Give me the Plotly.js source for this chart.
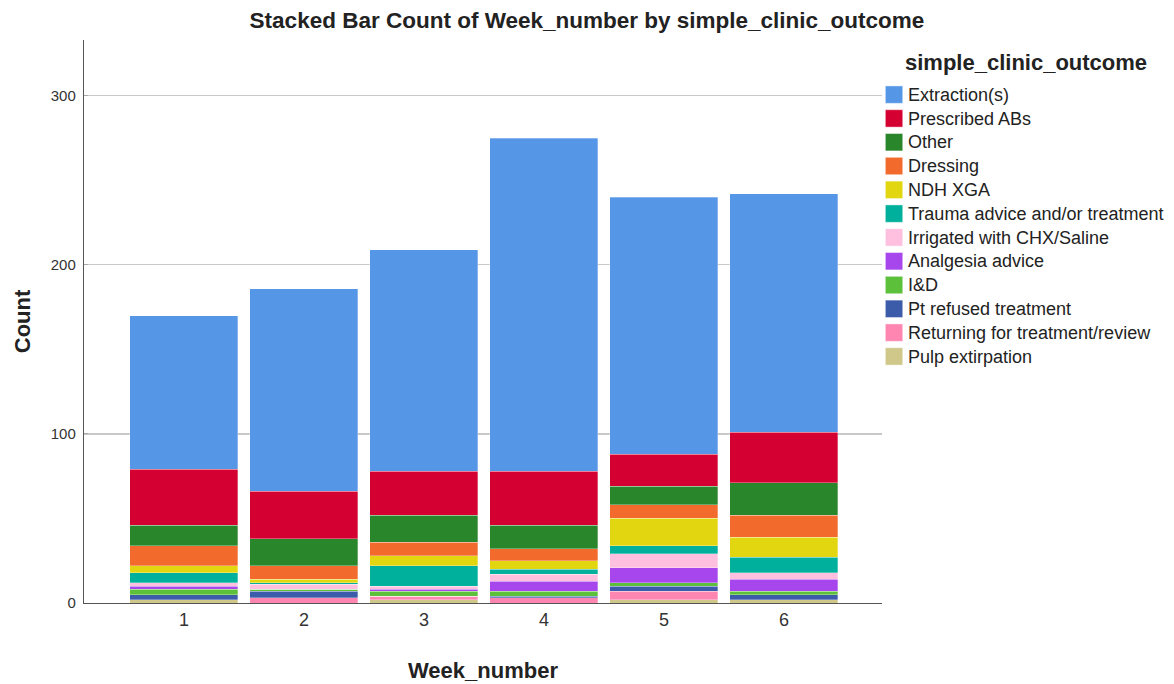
<!DOCTYPE html>
<html>
<head>
<meta charset="utf-8">
<script src="https://cdn.plot.ly/plotly-3.0.1.min.js"></script>
<style>html,body{margin:0;padding:0;background:#fff;}#chart{width:1174px;height:684px;}</style>
</head>
<body>
<div id="chart"></div>
<script>
const weeks = [1, 2, 3, 4, 5, 6];
const weekLabels = ["1", "2", "3", "4", "5", "6"];

// bottom to top stacking order
const pulpExtirpation   = [2, 0, 2, 0, 2, 2];
const returningReview   = [0, 3, 2, 3, 5, 0];
const ptRefused         = [3, 4, 0, 1, 3, 3];
const iAndD             = [3, 1, 3, 3, 2, 2];
const analgesiaAdvice   = [2, 0, 1, 6, 9, 7];
const irrigated         = [2, 3, 2, 4, 8, 4];
const traumaAdvice      = [6, 1, 12, 3, 5, 9];
const ndhXga            = [4, 2, 6, 5, 16, 12];
const dressing          = [12, 8, 8, 7, 8, 13];
const other             = [12, 16, 16, 14, 11, 19];
const prescribedABs     = [33, 28, 26, 32, 19, 30];
const extractions       = [91, 120, 131, 197, 152, 141];

const seriesNames = ["Pulp extirpation", "Returning for treatment/review", "Pt refused treatment", "I&D",
  "Analgesia advice", "Irrigated with CHX/Saline", "Trauma advice and/or treatment", "NDH XGA",
  "Dressing", "Other", "Prescribed ABs", "Extraction(s)"];
const seriesValues = [pulpExtirpation, returningReview, ptRefused, iAndD, analgesiaAdvice, irrigated,
  traumaAdvice, ndhXga, dressing, other, prescribedABs, extractions];
const seriesColors = ["#CFC88A", "#FF86B0", "#3C5BA8", "#5CC03A", "#A846EE", "#FFC0E0",
  "#00B09C", "#E2D610", "#F26A2C", "#2A862A", "#D50032", "#5596E6"];

const traces = seriesNames.map((n, i) => ({
  type: "bar",
  name: n,
  x: weeks,
  y: seriesValues[i],
  marker: {color: seriesColors[i], line: {color: "rgba(255,255,255,0.5)", width: 0.6}},
  hoverinfo: "x+y+name"
}));

const layout = {
  width: 1174, height: 684,
  barmode: "stack",
  bargap: 0.1,
  paper_bgcolor: "#fff", plot_bgcolor: "#fff",
  font: {family: "Liberation Sans, Arial, sans-serif", color: "#000"},
  margin: {l: 84, r: 292, t: 40, b: 81},
  title: {text: "<b>Stacked Bar Count of Week_number by simple_clinic_outcome</b>",
    font: {size: 22.5, color: "#222"}, x: 0.5, xref: "container", y: 0.97, yref: "container", yanchor: "middle"},
  xaxis: {
    range: [0.167, 6.817], tickvals: weeks, ticktext: weekLabels,
    tickfont: {size: 18, color: "#333"}, ticks: "", showgrid: false, zeroline: false,
    showline: true, linecolor: "#555", linewidth: 1.2,
    title: {text: "<b>Week_number</b>", font: {size: 22, color: "#222"}, standoff: 33}
  },
  yaxis: {
    range: [0, 333], tickvals: [0, 100, 200, 300],
    tickfont: {size: 15, color: "#333"}, ticks: "inside", ticklen: 4, tickcolor: "#aaa",
    ticklabelstandoff: 4,
    showgrid: true, gridcolor: "#c8c8c8", gridwidth: 1.2,
    zeroline: false, showline: true, linecolor: "#555", linewidth: 1.2,
    title: {text: "<b>Count</b>", font: {size: 22, color: "#222"}, standoff: 14}
  },
  legend: {
    x: 0.9825, xanchor: "left", y: 0.933, yanchor: "top", xref: "paper", yref: "paper",
    traceorder: "reversed",
    font: {size: 16, color: "#222"},
    itemwidth: 30, tracegroupgap: 0, bgcolor: "rgba(0,0,0,0)"
  },
  annotations: [{
    text: "<b>simple_clinic_outcome</b>", xref: "paper", yref: "paper",
    x: (903 - 84) / 798, y: (603 - 62) / 563, xanchor: "left", yanchor: "middle",
    showarrow: false, font: {size: 22, color: "#222"}
  }],
  showlegend: true
};

Plotly.newPlot("chart", traces, layout, {displayModeBar: false, staticPlot: true}).then(gd => {
  gd.querySelectorAll(".legend [clip-path]").forEach(e => e.removeAttribute("clip-path"));
  gd.querySelectorAll(".legend .legendpoints path").forEach(p => {
    p.setAttribute("transform", "translate(26,0) scale(1.45)");
  });
  gd.querySelectorAll(".legend .legendtext").forEach(t => {
    t.style.fontSize = "18px";
  });
});
</script>
</body>
</html>
